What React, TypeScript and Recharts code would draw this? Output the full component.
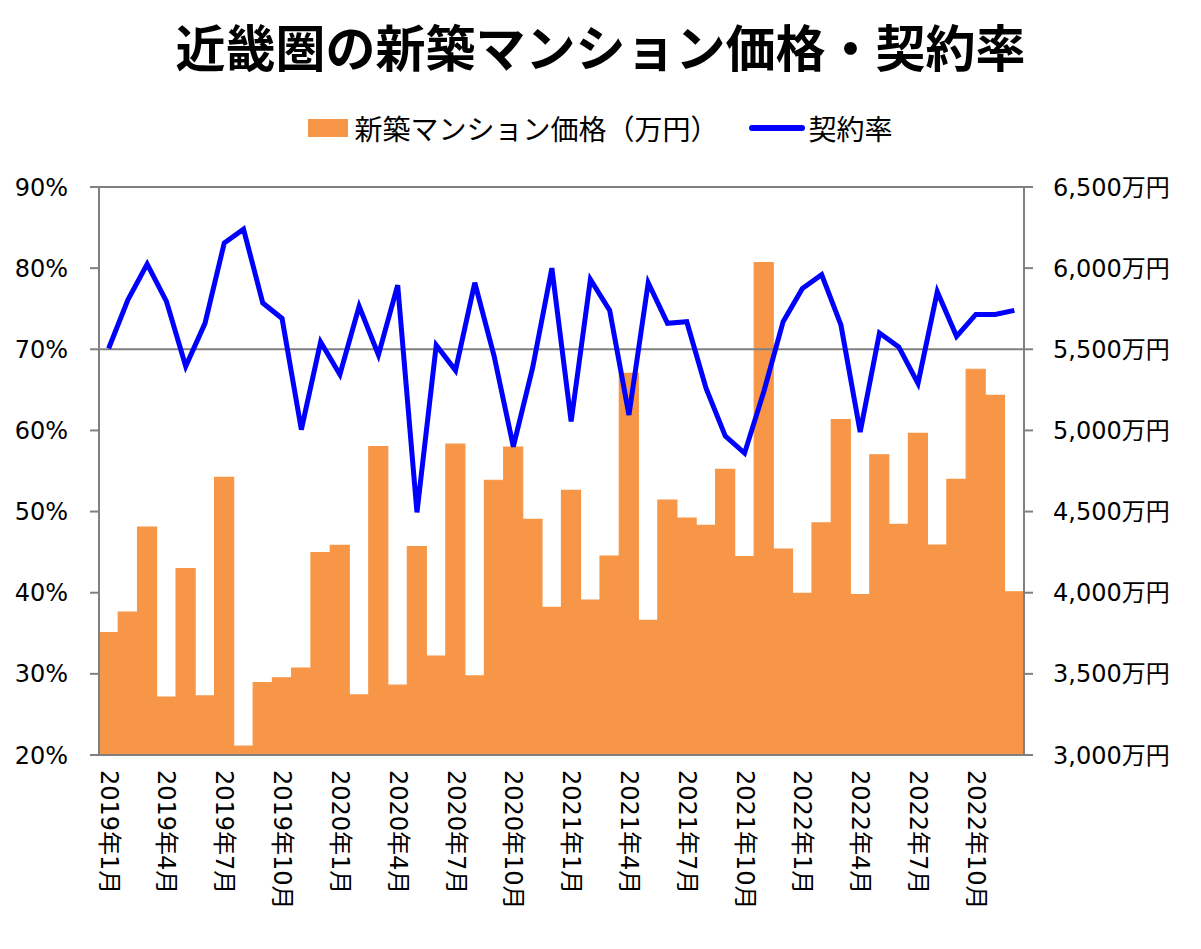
import React from "react";
import {
  Bar,
  ComposedChart,
  Line,
  ReferenceLine,
  XAxis,
  YAxis,
} from "recharts";

const years = [2019, 2020, 2021, 2022];
const months = years.flatMap((y) => Array.from({ length: 12 }, (_, i) => `${y}年${i + 1}月`));

// 新築マンション価格（万円）
const prices = [
  3754, 3881, 4405, 3357, 4148, 3364, 4711, 3055, 3446, 3476, 3536, 4247,
  4292, 3370, 4900, 3430, 4284, 3610, 4915, 3487, 4693, 4898, 4452, 3910,
  4631, 3955, 4226, 5352, 3830, 4571, 4460, 4415, 4760, 4222, 6034, 4269,
  3996, 4430, 5066, 3988, 4850, 4421, 4982, 4294, 4699, 5377, 5216, 4006,
];

// 契約率（%）
const rates = [
  70.1, 76.1, 80.5, 75.9, 67.9, 73.2, 83.1, 84.8, 75.7, 73.8, 60.1, 70.9,
  66.9, 75.3, 69.3, 77.9, 49.9, 70.5, 67.4, 78.2, 69.2, 58.0, 67.7, 80.0,
  61.1, 78.6, 74.8, 61.9, 78.2, 73.2, 73.4, 65.2, 59.3, 57.2, 64.8, 73.4,
  77.5, 79.2, 73.0, 59.8, 72.0, 70.3, 65.8, 77.1, 71.6, 74.3, 74.3, 74.8,
];

const rateTicks = [20, 30, 40, 50, 60, 70, 80, 90];
const priceTicks = [3000, 3500, 4000, 4500, 5000, 5500, 6000, 6500];

const data = months.map((m, i) => ({ month: m, price: prices[i], rate: rates[i] }));

const FONT = "'DejaVu Sans', 'Noto Sans CJK JP', sans-serif";
const CJK = "'Noto Sans CJK JP', sans-serif";
const AXIS = "#808080";
const ORANGE = "#F79646";

function MonthTick({ x, payload }: any) {
  return (
    <text
      transform={`translate(${x}, 770) rotate(90)`}
      textAnchor="start"
      dominantBaseline="central"
      fontSize={24}
      fontFamily={FONT}
      fill="#000"
    >
      {payload.value}
    </text>
  );
}

function LegendBox() {
  return (
    <div
      style={{
        position: "absolute",
        top: 106,
        left: 0,
        width: 1201,
        display: "flex",
        justifyContent: "center",
        alignItems: "center",
        fontFamily: CJK,
        fontSize: 28,
        lineHeight: "44px",
        color: "#000",
      }}
    >
      <span style={{ width: 40, height: 18, background: ORANGE, marginRight: 6 }} />
      <span style={{ marginRight: 30 }}>新築マンション価格（万円）</span>
      <span style={{ width: 56, height: 6, borderRadius: 3, background: "#0000FF", marginRight: 4 }} />
      <span>契約率</span>
    </div>
  );
}

export default function App() {
  return (
    <div style={{ position: "absolute", left: 0, top: 0, width: 1201, height: 949, background: "#fff" }}>
      <div
        style={{
          position: "absolute",
          top: 14,
          left: 0,
          width: 1201,
          textAlign: "center",
          fontFamily: CJK,
          fontWeight: 700,
          fontSize: 50,
          lineHeight: "62px",
          color: "#000",
        }}
      >
        近畿圏の新築マンション価格・契約率
      </div>
      <LegendBox />
      <div style={{ position: "absolute", left: 0, top: 0 }}>
        <ComposedChart
          width={1201}
          height={949}
          data={data}
          margin={{ top: 187, right: 0, bottom: 0, left: 0 }}
          barCategoryGap={0}
          barGap={0}
        >
          <XAxis
            dataKey="month"
            interval={2}
            height={194}
            tickLine={false}
            axisLine={{ stroke: AXIS, strokeWidth: 2 }}
            tick={<MonthTick />}
          />
          <YAxis
            yAxisId="left"
            orientation="left"
            width={99}
            domain={[20, 90]}
            ticks={rateTicks}
            tickFormatter={(v: number) => `${v}%`}
            axisLine={{ stroke: AXIS, strokeWidth: 2 }}
            tickLine={{ stroke: AXIS, strokeWidth: 2 }}
            tickSize={9}
            tickMargin={22}
            tick={{ fontSize: 24, fontFamily: FONT, fill: "#000" }}
          />
          <YAxis
            yAxisId="right"
            orientation="right"
            width={177}
            domain={[3000, 6500]}
            ticks={priceTicks}
            tickFormatter={(v: number) => `${v.toLocaleString("en-US")}万円`}
            axisLine={{ stroke: AXIS, strokeWidth: 2 }}
            tickLine={{ stroke: AXIS, strokeWidth: 2 }}
            tickSize={9}
            tickMargin={20}
            tick={{ fontSize: 24, fontFamily: FONT, fill: "#000", textAnchor: "start" }}
          />
          <ReferenceLine yAxisId="left" y={90} stroke={AXIS} strokeWidth={2} />
          <Bar
            yAxisId="right"
            dataKey="price"
            name="新築マンション価格（万円）"
            fill={ORANGE}
            stroke={ORANGE}
            strokeWidth={1.2}
            isAnimationActive={false}
          />
          <ReferenceLine yAxisId="left" y={70} stroke={AXIS} strokeWidth={2} />
          <Line
            yAxisId="left"
            type="linear"
            dataKey="rate"
            name="契約率"
            stroke="#0000FF"
            strokeWidth={5}
            dot={false}
            isAnimationActive={false}
          />
        </ComposedChart>
      </div>
    </div>
  );
}
